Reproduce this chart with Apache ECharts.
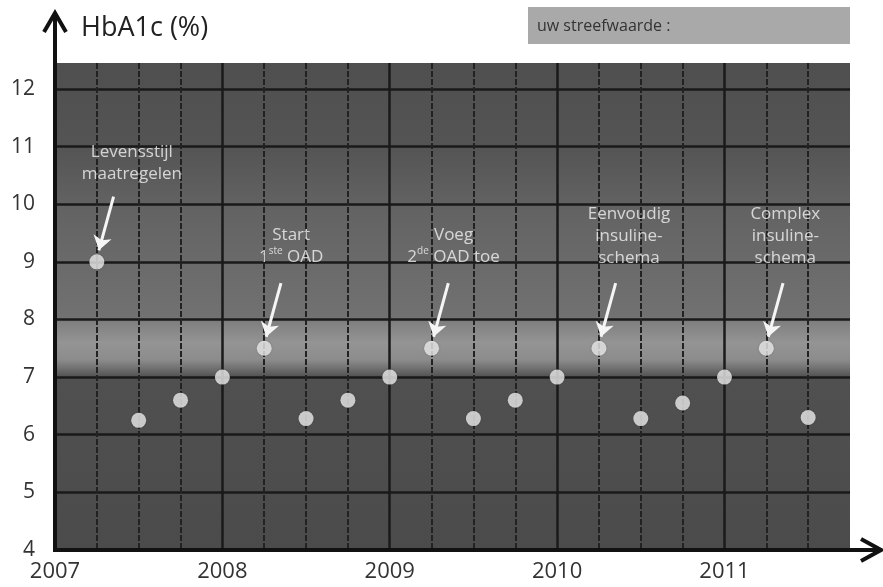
<!DOCTYPE html>
<html><head><meta charset="utf-8">
<script src="https://cdn.jsdelivr.net/npm/echarts@6/dist/echarts.min.js"></script>
<style>html,body{margin:0;padding:0;background:#fff}#chart{width:883px;height:587px}</style>
</head><body><div id="chart"></div>
<script>
// ---- data ----
const measureDates = [2007.25, 2007.5, 2007.75, 2008.0, 2008.25, 2008.5, 2008.75, 2009.0, 2009.25,
                      2009.5, 2009.75, 2010.0, 2010.25, 2010.5, 2010.75, 2011.0, 2011.25, 2011.5];
const hba1cValues  = [9.0, 6.25, 6.6, 7.0, 7.5, 6.28, 6.6, 7.0, 7.5,
                      6.28, 6.6, 7.0, 7.5, 6.28, 6.55, 7.0, 7.5, 6.3];
const annotatedIndex = [0, 4, 8, 12, 16];
const annotationTexts = [
  ['Levensstijl', 'maatregelen'],
  ['Start', '1{sup|ste} OAD'],
  ['Voeg', '2{sup|de} OAD toe'],
  ['Eenvoudig', 'insuline-', 'schema'],
  ['Complex', 'insuline-', 'schema']
];
const yearTicks = [2007, 2008, 2009, 2010, 2011];
const yTickValues = [4, 5, 6, 7, 8, 9, 10, 11, 12];
const titleText = 'HbA1c (%)';
const targetLabel = 'uw streefwaarde :';

// ---- axis ranges / layout ----
const xMin = 2007, xMax = 2011.75, yMin = 4, yMax = 12.45;
const FONT = '"Open Sans", "Noto Sans", sans-serif';
const labelLayout = [[35, -69], [27, -73], [22, -73], [30, -72], [19, -72]];

function stop(v, color) { return { offset: (yMax - v) / (yMax - yMin), color: color }; }
const bandGradient = new echarts.graphic.LinearGradient(0, 0, 0, 1, [
  stop(12.45, '#4f4f4f'), stop(11.0, '#545454'), stop(10.0, '#626262'), stop(9.0, '#6a6a6a'),
  stop(8.05, '#717171'), stop(7.95, '#808080'), stop(7.6, '#949494'), stop(7.3, '#8c8c8c'),
  stop(7.12, '#6a6a6a'), stop(7.0, '#505050'), stop(4.0, '#4b4b4b')
]);

const scatterData = measureDates.map(function (d, i) {
  const item = { value: [d, hba1cValues[i]] };
  const k = annotatedIndex.indexOf(i);
  if (k >= 0) {
    item.label = {
      show: true, position: 'top', distance: 0,
      offset: labelLayout[k],
      formatter: annotationTexts[k].join('\n'),
      color: '#f2f2f2', fontSize: 17, lineHeight: 22, fontFamily: FONT, align: 'center',
      rich: { sup: { fontSize: 10, lineHeight: 12, verticalAlign: 'top', color: '#f2f2f2', fontFamily: FONT } }
    };
  }
  return item;
});

const arrowData = annotatedIndex.map(function (i) {
  const x = measureDates[i], y = hba1cValues[i];
  return [{ coord: [x + 0.1, y + 1.13] }, { coord: [x + 0.012, y + 0.2] }];
});

const chart = echarts.init(document.getElementById('chart'), null, { renderer: 'canvas' });
const intLabel = function (v) { return Math.abs(v - Math.round(v)) < 1e-6 ? String(Math.round(v)) : ''; };

chart.setOption({
  animation: false,
  backgroundColor: '#ffffff',
  title: { text: titleText, left: 76, top: 10, textStyle: { fontSize: 27, fontWeight: 'normal', color: '#222', fontFamily: FONT } },
  grid: { left: 55, right: 33, top: 63, bottom: 37, containLabel: false },
  xAxis: {
    type: 'value', min: xMin, max: xMax, interval: 1, z: 3,
    axisLine: { show: false }, axisTick: { show: false },
    axisLabel: { formatter: function (v) { return yearTicks.indexOf(Math.round(v)) >= 0 ? intLabel(v) : ''; },
                 fontSize: 22, color: '#333', margin: 11, fontFamily: FONT, showMaxLabel: false },
    splitLine: { show: true, showMinLine: false, showMaxLine: false, lineStyle: { color: '#1a1a1a', width: 2.5 } },
    minorTick: { show: false, splitNumber: 4 },
    minorSplitLine: { show: true, lineStyle: { color: '#222222', width: 2, type: [6, 2] } }
  },
  yAxis: {
    type: 'value', min: yMin, max: yMax, interval: 1, z: 3,
    axisLine: { show: false }, axisTick: { show: false },
    axisLabel: { formatter: function (v) { return yTickValues.indexOf(Math.round(v)) >= 0 ? intLabel(v) : ''; },
                 fontSize: 21, color: '#333', margin: 20, fontFamily: FONT, showMaxLabel: false },
    splitLine: { show: true, showMinLine: false, showMaxLine: false, lineStyle: { color: '#1a1a1a', width: 2.5 } }
  },
  series: [
    {
      type: 'scatter', z: 1, data: [], silent: true,
      markArea: { silent: true, itemStyle: { color: bandGradient, borderWidth: 0 }, data: [[{ yAxis: yMax }, { yAxis: yMin }]] }
    },
    {
      type: 'scatter', z: 5, data: scatterData, symbol: 'circle', symbolSize: 15,
      itemStyle: { color: '#eeeeee', shadowColor: 'rgba(0,0,0,0.25)', shadowBlur: 2 },
      markLine: {
        silent: true, symbol: ['none', 'arrow'], symbolSize: 14,
        lineStyle: { color: '#f5f5f5', width: 3, type: 'solid' },
        label: { show: false }, emphasis: { disabled: true },
        data: arrowData
      }
    }
  ]
});

const o = chart.convertToPixel({ gridIndex: 0 }, [xMin, yMin]);
const W = chart.getWidth();
const corner = chart.convertToPixel({ gridIndex: 0 }, [xMax, yMax]);
chart.setOption({
  graphic: [
    { type: 'line', shape: { x1: o[0], y1: o[1] + 2, x2: o[0], y2: 14 }, style: { stroke: '#111', lineWidth: 4 }, z: 10 },
    { type: 'polyline', shape: { points: [[o[0] - 11, 32], [o[0], 13], [o[0] + 11, 32]] }, style: { stroke: '#111', lineWidth: 4, fill: null }, z: 10 },
    { type: 'line', shape: { x1: o[0] - 2, y1: o[1], x2: W - 3, y2: o[1] }, style: { stroke: '#111', lineWidth: 4 }, z: 10 },
    { type: 'polyline', shape: { points: [[W - 22, o[1] - 11], [W - 2, o[1]], [W - 22, o[1] + 11]] }, style: { stroke: '#111', lineWidth: 4, fill: null }, z: 10 },
    { type: 'rect', shape: { x: 528, y: 7, width: corner[0] - 528, height: 37 }, style: { fill: '#a9a9a9' }, z: 10 },
    { type: 'text', x: 537, y: 26, style: { text: targetLabel, fill: '#333', fontSize: 16, fontFamily: FONT, verticalAlign: 'middle' }, z: 11 }
  ]
});
</script>
</body></html>
